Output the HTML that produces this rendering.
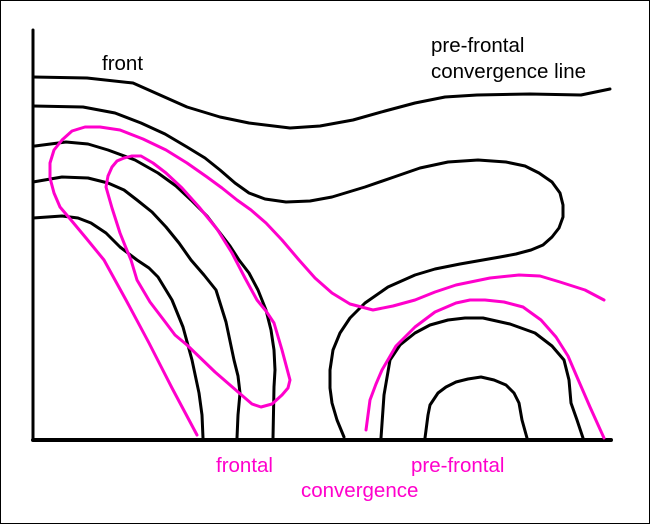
<!DOCTYPE html>
<html><head><style>
html,body{margin:0;padding:0;background:#fff;}
svg{display:block;}
text{font-family:"Liberation Sans",Arial,sans-serif;font-size:20.5px;}
</style></head><body>
<svg width="650" height="524" viewBox="0 0 650 524" xmlns="http://www.w3.org/2000/svg">
<rect x="0.5" y="0.5" width="649" height="523" fill="#fff" stroke="#000" stroke-width="1"/>
<g fill="none" stroke="#000" stroke-width="3" stroke-linejoin="round" stroke-linecap="round">
<line x1="33" y1="30" x2="33" y2="440"/>
<line x1="33" y1="440" x2="611" y2="440" stroke-width="4"/>
<polyline points="33,77 87,78 133,83 160,95 187,107 220,117 249,123 290,128 320,126 353,120 385,111 415,103 445,97 477,95 530,94 581,95 610,89"/>
<polyline points="33,106 83,107 115,113 141,123 165,134 187,147 205,158 220,170 235,183 249,193 265,199 286,202 310,201 332,197 365,187 394,177 420,168 448,162 478,160 506,162 525,166 539,173 552,182 560,193 563,205 563,217 559,228 552,237 543,245 531,250 516,254 500,257 460,264 435,269 415,275 388,287 365,303 350,318 340,333 333,350 330,370 330,388 332,403 337,420 344,437"/>
<polyline points="35,146 66,142 88,144 108,150 135,160 158,173 176,186 191,200 207,216 220,233 230,246 239,260 249,273 258,290 266,310 271,330 274,350 275,370 274,387 273,438"/>
<polyline points="33,182 62,177 88,178 108,183 124,190 137,200 152,212 166,227 179,243 191,260 204,275 216,290 226,322 234,360 238,376 240,393 238,415 237,438"/>
<polyline points="33,218 62,216 78,218 91,223 106,233 120,247 137,260 149,268 158,277 172,300 183,327 192,360 199,393 202,415 203,438"/>
<polyline points="381,438 384,395 390,360 400,345 415,333 430,325 448,320 465,318 483,318 510,324 535,333 552,346 564,360 569,380 571,403 577,420 583,438"/>
<polyline points="425,438 428,415 430,405 438,393 446,387 456,382 468,379 481,377 494,380 506,385 514,393 519,403 522,420 527,438"/>
</g>
<g fill="none" stroke="#ff00cc" stroke-width="3" stroke-linejoin="round" stroke-linecap="round">
<polyline points="197,435 172,388 149,343 126,300 104,260 86,238 71,220 60,207 54,193 50,178 50,163 54,150 62,140 72,131 85,127 100,127 120,130 143,139 166,150 187,163 207,177 222,188 237,200 251,210 266,223 282,240 299,260 315,278 332,293 350,304 373,310 393,306 415,300 435,292 456,285 490,278 519,275 540,276 560,282 585,290 604,300"/>
<polyline points="131,260 126,248 120,233 112,208 106,187 108,176 112,167 117,161 124,158 132,156 141,156 153,163 166,173 182,188 199,207 217,229 232,253 245,278 257,300 266,311 274,323 282,350 290,380 288,388 282,395 272,404 261,407 252,404 245,398 215,372 187,345 175,335 166,323 150,302 137,280 131,260"/>
<polyline points="366,430 370,400 376,384 382,370 396,346 415,327 435,312 456,303 470,300 485,300 504,302 523,307 541,320 556,337 568,356 577,377 590,407 604,438"/>
</g>
<g fill="#000">
<text x="102" y="70">front</text>
<text x="431" y="52">pre-frontal</text>
<text x="431" y="78">convergence line</text>
</g>
<g fill="#ff00cc">
<text x="216" y="472">frontal</text>
<text x="411" y="472">pre-frontal</text>
<text x="301" y="497">convergence</text>
</g>
</svg>
</body></html>
